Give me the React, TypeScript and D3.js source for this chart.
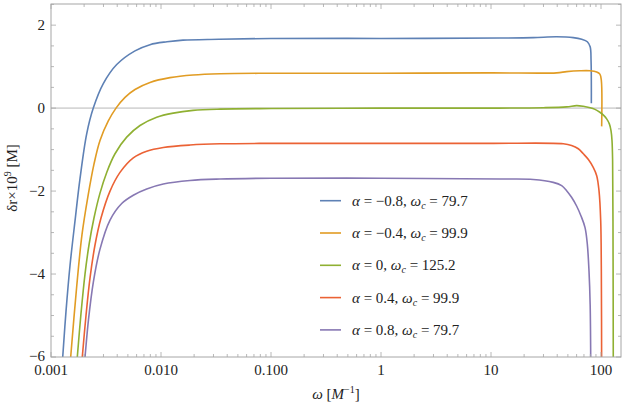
import { useRef, useEffect } from 'react';
import * as d3 from 'd3';

// series: [omega, delta r x 1e9]
const alphas = ['−0.8', '−0.4', '0', '0.4', '0.8'];
const omegaC = ['79.7', '99.9', '125.2', '99.9', '79.7'];
const colors = ['#5E81B5', '#E19C24', '#8FB032', '#EB6235', '#8778B3'];

const seriesA: [number, number][] = [
  [0.00123, -6.6], [0.001278, -6.0], [0.001369, -4.9], [0.001488, -3.8], [0.001653, -2.72],
  [0.001835, -1.7], [0.002111, -0.62], [0.002424, 0.0], [0.002988, 0.59], [0.003957, 1.05],
  [0.005802, 1.38], [0.007943, 1.53], [0.01134, 1.6], [0.01585, 1.64], [0.03368, 1.66],
  [0.1, 1.68], [1, 1.68], [12, 1.69], [24.2, 1.7], [39.5, 1.72], [56, 1.7], [66.8, 1.66],
  [75.1, 1.6], [79.7, 1.48], [81.2, 1.15], [81.7, 0.12],
];
const seriesB: [number, number][] = [
  [0.001448, -6.6], [0.00151, -6.0], [0.0017125, -4.3], [0.001913, -3.05], [0.002169, -2.12],
  [0.002459, -1.35], [0.002789, -0.78], [0.003319, -0.31], [0.003899, 0.0], [0.004708, 0.26],
  [0.005802, 0.45], [0.007943, 0.62], [0.012073, 0.735], [0.019537, 0.8], [0.034395, 0.83],
  [0.1, 0.84], [1, 0.84], [10, 0.85], [39.5, 0.85], [48.7, 0.88], [64.4, 0.9], [79.7, 0.9],
  [91.4, 0.87], [97.7, 0.82], [100.7, 0.67], [101.4, -0.44],
];
const seriesC: [number, number][] = [
  [0.001663, -6.6], [0.001734, -6.0], [0.001874, -4.95], [0.002038, -4.0], [0.002215, -3.3],
  [0.002459, -2.65], [0.002789, -2.05], [0.00321, -1.55], [0.003818, -1.1], [0.004878, -0.7],
  [0.006444, -0.42], [0.009139, -0.22], [0.012935, -0.12], [0.019537, -0.055], [0.034395, -0.025],
  [0.1, -0.01], [1, 0.0], [10, 0.0], [30, 0.01], [48.7, 0.03], [60, 0.06], [69, 0.045],
  [79.7, 0.01], [88.2, -0.03], [97.7, -0.1], [106.4, -0.18], [112.6, -0.26], [119.1, -0.38],
  [123.3, -0.54], [125.9, -0.78], [127.5, -1.26], [128.5, -2.72], [129.4, -6.6],
];
const seriesD: [number, number][] = [
  [0.001846, -6.6], [0.001925, -6.0], [0.002081, -5.0], [0.002262, -4.1], [0.002512, -3.3],
  [0.002848, -2.65], [0.00344, -2.0], [0.004239, -1.55], [0.0056, -1.2], [0.007413, -1.04],
  [0.010493, -0.95], [0.018345, -0.89], [0.034395, -0.86], [0.1, -0.85], [1, -0.85],
  [10, -0.85], [45.4, -0.86], [54, -0.9], [62.2, -0.98], [69, -1.1], [76.8, -1.24],
  [85, -1.43], [91.4, -1.63], [95.9, -1.99], [99.4, -2.72], [100.7, -3.93], [101.4, -6.6],
];
const seriesE: [number, number][] = [
  [0.001942, -6.6], [0.002038, -6.0], [0.002192, -5.1], [0.002424, -4.2], [0.002789, -3.4],
  [0.00344, -2.7], [0.004393, -2.3], [0.0056, -2.1], [0.007413, -1.95], [0.010493, -1.83],
  [0.018345, -1.745], [0.034395, -1.71], [0.1, -1.69], [1, -1.69], [12, -1.71], [24.2, -1.72],
  [36.8, -1.79], [43.9, -1.87], [48.7, -1.99], [54, -2.15], [60, -2.36], [65.8, -2.6],
  [71.6, -2.88], [75.1, -3.28], [77.8, -3.93], [79.7, -4.74], [80.8, -6.6],
];
const allSeries = [seriesA, seriesB, seriesC, seriesD, seriesE];

const xTicks = [0.001, 0.01, 0.1, 1, 10, 100];
const xTickLabels = ['0.001', '0.010', '0.100', '1', '10', '100'];
const yTicks = [-6, -4, -2, 0, 2];
const yTickLabels = ['−6', '−4', '−2', '0', '2'];

export default function App() {
  const svgRef = useRef<SVGSVGElement>(null);
  const width = 623;
  const height = 407;

  useEffect(() => {
    const svg = d3.select(svgRef.current);
    svg.selectAll('*').remove();

    const left = 51, right = 621, top = 4, bottom = 357;
    const x = d3.scaleLog().domain([0.001, 10 ** ((right - left) / 110 - 3)]).range([left, right]);
    const y = d3.scaleLinear().domain([-6, 2.51]).range([bottom, top]);
    const font = 'Liberation Serif, DejaVu Serif, serif';
    const frame = '#a6a6a6';
    const ink = '#222';

    svg.append('defs').append('clipPath').attr('id', 'plot-clip')
      .append('rect').attr('x', left).attr('y', top).attr('width', right - left).attr('height', bottom - top);

    // zero line
    svg.append('line').attr('x1', left).attr('x2', right).attr('y1', y(0)).attr('y2', y(0))
      .attr('stroke', '#d6d6d6').attr('stroke-width', 1.6);

    // curves
    const line = d3.line<[number, number]>().x((d) => x(d[0])).y((d) => y(d[1]))
      .curve(d3.curveCatmullRom.alpha(0.5));
    const g = svg.append('g').attr('clip-path', 'url(#plot-clip)');
    allSeries.forEach((s, i) => {
      g.append('path').attr('d', line(s)).attr('fill', 'none')
        .attr('stroke', colors[i]).attr('stroke-width', 1.6).attr('stroke-linejoin', 'round');
    });

    // frame
    svg.append('rect').attr('x', left).attr('y', top).attr('width', right - left).attr('height', bottom - top)
      .attr('fill', 'none').attr('stroke', frame).attr('stroke-width', 1);

    // x ticks (bottom + top)
    const minorX: number[] = [];
    for (let e = -3; e <= 2; e++) for (let k = 2; k <= 9; k++) {
      const v = k * 10 ** e;
      if (x(v) < right) minorX.push(v);
    }
    const tickG = svg.append('g').attr('stroke', frame).attr('stroke-width', 0.8);
    xTicks.forEach((v) => {
      tickG.append('line').attr('x1', x(v)).attr('x2', x(v)).attr('y1', bottom).attr('y2', bottom - 5);
      tickG.append('line').attr('x1', x(v)).attr('x2', x(v)).attr('y1', top).attr('y2', top + 5);
    });
    minorX.forEach((v) => {
      tickG.append('line').attr('x1', x(v)).attr('x2', x(v)).attr('y1', bottom).attr('y2', bottom - 3);
      tickG.append('line').attr('x1', x(v)).attr('x2', x(v)).attr('y1', top).attr('y2', top + 3);
    });
    // y ticks (left + right)
    for (let v = -6; v <= 2.5; v += 0.5) {
      const major = Number.isInteger(v / 2);
      const len = major ? 5 : 3;
      tickG.append('line').attr('x1', left).attr('x2', left + len).attr('y1', y(v)).attr('y2', y(v));
      tickG.append('line').attr('x1', right).attr('x2', right - len).attr('y1', y(v)).attr('y2', y(v));
    }

    // tick labels
    xTicks.forEach((v, i) => {
      svg.append('text').attr('x', x(v)).attr('y', 375).attr('text-anchor', 'middle')
        .attr('font-family', font).attr('font-size', 15).attr('fill', ink).text(xTickLabels[i]);
    });
    yTicks.forEach((v, i) => {
      svg.append('text').attr('x', 45).attr('y', y(v) + (v === -6 ? 4 : 5)).attr('text-anchor', 'end')
        .attr('font-family', font).attr('font-size', 15).attr('fill', ink).text(yTickLabels[i]);
    });

    // axis labels
    const xl = svg.append('text').attr('x', 336).attr('y', 399).attr('text-anchor', 'middle')
      .attr('font-family', font).attr('font-size', 15).attr('fill', ink);
    xl.append('tspan').attr('font-style', 'italic').text('ω');
    xl.append('tspan').text(' [');
    xl.append('tspan').attr('font-style', 'italic').text('M');
    xl.append('tspan').attr('font-size', 10).attr('dy', -6).text('−1');
    xl.append('tspan').attr('dy', 6).text(']');

    const yl = svg.append('text').attr('transform', 'translate(17,178) rotate(-90)').attr('text-anchor', 'middle')
      .attr('font-family', font).attr('font-size', 15).attr('fill', ink);
    yl.append('tspan').text('δr×10');
    yl.append('tspan').attr('font-size', 10).attr('dy', -6).text('9');
    yl.append('tspan').attr('dy', 6).text(' [M]');

    // legend
    alphas.forEach((a, i) => {
      const ly = 200.7 + i * 32.3;
      svg.append('line').attr('x1', 320).attr('x2', 341).attr('y1', ly).attr('y2', ly)
        .attr('stroke', colors[i]).attr('stroke-width', 1.6);
      const t = svg.append('text').attr('x', 352).attr('y', ly + 5)
        .attr('font-family', font).attr('font-size', 15).attr('fill', ink);
      t.append('tspan').attr('font-style', 'italic').text('α');
      t.append('tspan').text(` = ${a}, `);
      t.append('tspan').attr('font-style', 'italic').text('ω');
      t.append('tspan').attr('font-style', 'italic').attr('font-size', 10).attr('dy', 3).text('c');
      t.append('tspan').attr('dy', -3).text(` = ${omegaC[i]}`);
    });
  }, []);

  return (
    <svg ref={svgRef} width={width} height={height} viewBox={`0 0 ${width} ${height}`}
      style={{ position: 'absolute', left: 0, top: 0, display: 'block', background: '#fff' }} />
  );
}
